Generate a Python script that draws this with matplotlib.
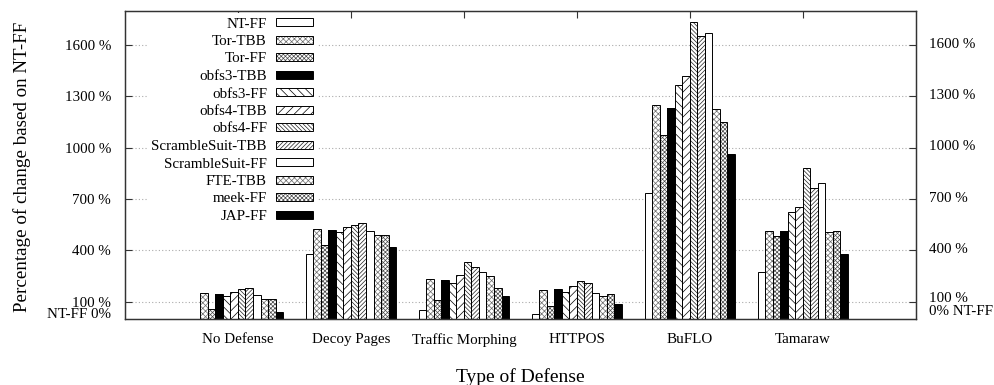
import matplotlib
matplotlib.use("Agg")
import matplotlib.pyplot as plt
import numpy as np
from matplotlib.patches import Patch
from matplotlib.legend_handler import HandlerTuple

plt.rcParams['font.family'] = ['Liberation Serif', 'DejaVu Serif']
plt.rcParams['hatch.linewidth'] = 0.5

defenses = ["No Defense", "Decoy Pages", "Traffic Morphing", "HTTPOS", "BuFLO", "Tamaraw"]
series_names = ["NT-FF", "Tor-TBB", "Tor-FF", "obfs3-TBB", "obfs3-FF", "obfs4-TBB",
                "obfs4-FF", "ScrambleSuit-TBB", "ScrambleSuit-FF", "FTE-TBB", "meek-FF", "JAP-FF"]

# percentage change per defense, one list per browser/transport configuration
nt_ff = [0, 377, 51, 26, 733, 271]
tor_tbb = [148, 523, 230, 166, 1248, 511]
tor_ff = [55, 434, 109, 74, 1077, 482]
obfs3_tbb = [142, 521, 224, 173, 1230, 511]
obfs3_ff = [131, 506, 208, 157, 1369, 622]
obfs4_tbb = [156, 539, 257, 191, 1419, 655]
obfs4_ff = [171, 548, 329, 222, 1734, 883]
ss_tbb = [181, 562, 303, 206, 1656, 766]
ss_ff = [136, 515, 276, 148, 1672, 791]
fte_tbb = [113, 492, 249, 132, 1227, 507]
meek_ff = [117, 492, 181, 144, 1149, 511]
jap_ff = [39, 420, 134, 84, 966, 381]

series_values = [nt_ff, tor_tbb, tor_ff, obfs3_tbb, obfs3_ff, obfs4_tbb,
                 obfs4_ff, ss_tbb, ss_ff, fte_tbb, meek_ff, jap_ff]

y_ticks = [100, 400, 700, 1000, 1300, 1600]

# fill styles cycle like gnuplot fill patterns 0..7: (face, hatch, hatch colour)
styles = [
    ('white', None, 'black'),
    ('white', 'xxxxxx', '#6a6a6a'),
    ('white', 'xxxxxxxx', '#4a4a4a'),
    ('black', None, 'black'),
    ('white', '\\\\\\\\', 'black'),
    ('white', '////', 'black'),
    ('white', '\\\\\\\\\\\\\\\\', '#222222'),
    ('white', '////////', '#222222'),
]

fig = plt.figure(figsize=(9.95, 3.85), dpi=100)
ax = fig.add_axes([125 / 995, (385 - 318.7) / 385, 790.7 / 995, 307.7 / 385])

n = len(series_names)
w = 1.0 / (n + 3)
x = np.arange(len(defenses))
handles = []
for j, (name, vals) in enumerate(zip(series_names, series_values)):
    face, hatch, hcol = styles[j % len(styles)]
    pos = x + (j - (n - 1) / 2) * w
    ax.bar(pos, vals, width=w, facecolor=face, hatch=hatch, edgecolor=hcol,
           linewidth=0, zorder=2)
    ax.bar(pos, vals, width=w, facecolor='none', edgecolor='black',
           linewidth=0.7, zorder=3)
    fill = Patch(facecolor=face, hatch=hatch, edgecolor=hcol, linewidth=0)
    outline = Patch(facecolor='none', edgecolor='black', linewidth=0.7)
    handles.append((fill, outline))

ax.set_xlim(-1, 6)
ax.set_ylim(0, 1800)
ax.set_xticks(x)
ax.set_xticklabels(defenses, fontsize=10.8)
ax.tick_params(axis='x', bottom=False, top=True, direction='in', length=5,
               labelbottom=True, pad=10.5, color='#333333')
ax.set_yticks(y_ticks)
ax.set_yticklabels([f"{v} %" for v in y_ticks], fontsize=10.8)
ax.tick_params(axis='y', direction='in', length=5, pad=10, color='#333333')
ax.grid(axis='y', linestyle=(0, (1, 2)), color='#aaaaaa', linewidth=0.8, zorder=0)

ax2 = ax.twinx()
ax2.set_ylim(0, 1800)
ax2.set_yticks(y_ticks)
ax2.tick_params(axis='y', direction='in', length=5, labelright=False, color='#333333')

for a in (ax, ax2):
    for s in a.spines.values():
        s.set_color('#333333')
        s.set_linewidth(0.9)

# right-hand labels; the lowest ones are nudged up to clear the 0% label
for v in y_ticks:
    dy = 3.5 if v == y_ticks[0] else 1.0
    ax.annotate(f"{v} %", xy=(1, v), xycoords=('axes fraction', 'data'),
                xytext=(13.3, dy), textcoords='offset pixels', ha='left', va='center',
                fontsize=10.8)
ax.annotate("NT-FF 0%", xy=(0, 0), xycoords=('axes fraction', 'data'),
            xytext=(-14.3, 3.7), textcoords='offset pixels', ha='right', va='center',
            fontsize=10.8)
ax.annotate("0% NT-FF", xy=(1, 0), xycoords=('axes fraction', 'data'),
            xytext=(13.3, 7.0), textcoords='offset pixels', ha='left', va='center',
            fontsize=10.8)

ax.set_xlabel("Type of Defense", fontsize=14)
ax.xaxis.set_label_coords(0.5, -0.1885)
ax.xaxis.label.set_va('center')
ax.set_ylabel("Percentage of change based on NT-FF", fontsize=13.7)
ax.yaxis.set_label_coords(-0.130, 0.493)
ax.yaxis.label.set_va('center')

leg = ax.legend(handles=handles, labels=series_names,
                handler_map={tuple: HandlerTuple(ndivide=1, pad=0)},
                loc='upper left', bbox_to_anchor=(22 / 790.7, 1 - 2 / 307.7),
                markerfirst=False, fontsize=10.8, frameon=True, fancybox=False,
                framealpha=1, facecolor='white', edgecolor='none',
                handlelength=2.45, handleheight=0.45, handletextpad=0.6,
                labelspacing=0.3, borderpad=0.3, borderaxespad=0)
for t in leg.get_texts():
    t.set_ha('right')
leg.set_zorder(5)

fig.savefig("out.png", dpi=100)
